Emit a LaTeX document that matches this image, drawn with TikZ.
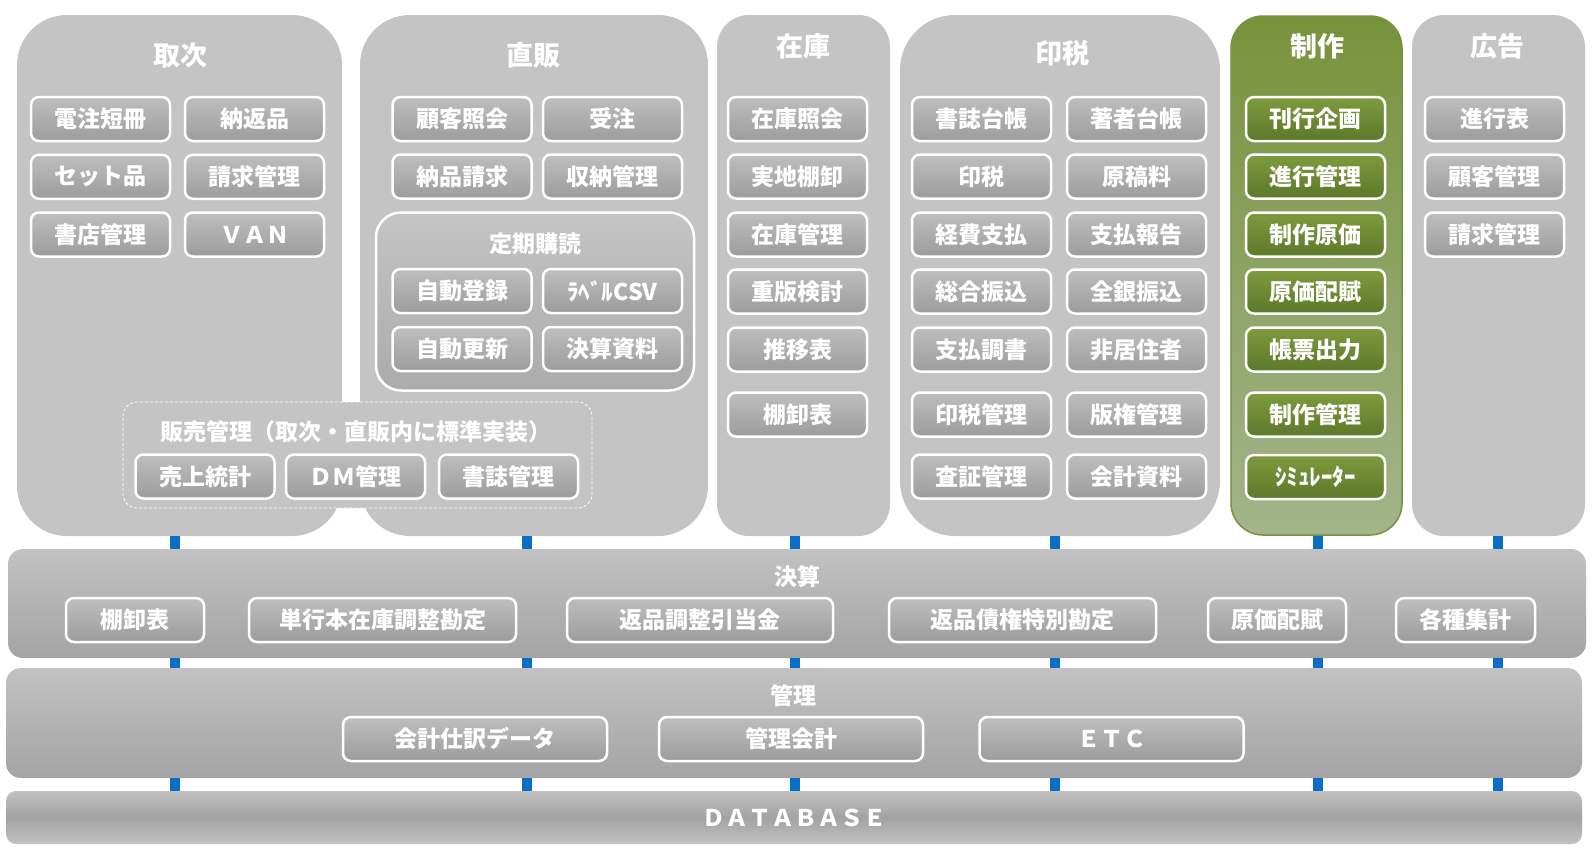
\documentclass[tikz,border=0pt]{standalone}
\usepackage{fontspec}
\setmainfont{Noto Sans CJK JP}
\definecolor{colgray}{HTML}{C4C4C4}
\definecolor{boxtop}{HTML}{BEBEBE}
\definecolor{boxbot}{HTML}{9C9C9C}
\definecolor{gcoltop}{HTML}{77923B}
\definecolor{gcolbot}{HTML}{A4B48C}
\definecolor{gboxtop}{HTML}{7E9B3E}
\definecolor{gboxbot}{HTML}{5C782A}
\definecolor{bartop}{HTML}{C2C2C2}
\definecolor{barbot}{HTML}{A4A4A4}
\definecolor{dbmid}{HTML}{A2A2A2}
\definecolor{linkblue}{HTML}{0A6EC6}
\tikzset{
	col/.style={fill=colgray, rounded corners=#1, minimum height=521pt, inner sep=0pt},
	greencol/.style={draw=gcoltop, line width=1.5pt, top color=gcoltop, bottom color=gcolbot, rounded corners=32pt, minimum height=519pt, minimum width=171pt, inner sep=0pt},
	coltitle/.style={text=white, font=\fontsize{27}{27}\selectfont\bfseries},
	subtitle/.style={text=white, font=\fontsize{23}{23}\selectfont\bfseries},
	gbox/.style={draw=white, line width=2.5pt, rounded corners=8pt, top color=boxtop, bottom color=boxbot, minimum width=139pt, minimum height=44pt, inner sep=0pt, text=white, font=\fontsize{23}{23}\selectfont\bfseries},
	greenbox/.style={gbox, top color=gboxtop, bottom color=gboxbot},
	bar/.style={rounded corners=15pt, top color=bartop, bottom color=barbot, inner sep=0pt},
	link/.style={draw=linkblue, line width=10pt}
}
\begin{document}
\begin{tikzpicture}[x=1pt,y=-1pt]
	\useasboundingbox (0,0) rectangle (1594,855);
	% columns
	\node[col=50pt, minimum width=325pt] (toritsugi) at (179.5,275.5) {};
	\node[col=50pt, minimum width=348pt] (chokuhan) at (534,275.5) {};
	\node[col=32pt, minimum width=173pt] (zaiko) at (803.5,275.5) {};
	\node[col=55pt, minimum width=320pt] (inzei) at (1060,275.5) {};
	\node[greencol] (seisaku) at (1316.5,275.5) {};
	\node[col=32pt, minimum width=173pt] (koukoku) at (1498.5,275.5) {};
	\node[coltitle] at (180,55) {取次};
	\node[coltitle] at (533,55) {直販};
	\node[coltitle] at (803,46) {在庫};
	\node[coltitle] at (1062,53) {印税};
	\node[coltitle] at (1317,46) {制作};
	\node[coltitle] at (1497,46) {広告};
	% bars
	\node[bar, minimum width=1578pt, minimum height=109pt] (kessan) at (797,603.5) {};
	\node[bar, minimum width=1576pt, minimum height=110pt] (kanri) at (794,723) {};
	\node[rounded corners=10pt, inner sep=0pt, top color=bartop, bottom color=bartop, middle color=dbmid, minimum width=1576pt, minimum height=53pt] (db) at (794,817.5) {};
	\foreach \cx/\cn in {175/toritsugi,527/chokuhan,795/zaiko,1055/inzei,1318/seisaku,1498/koukoku}{
		\draw[link] (\cx,0 |- \cn.south) -- (\cx,0 |- kessan.north);
		\draw[link] (\cx,0 |- kessan.south) -- (\cx,0 |- kanri.north);
		\draw[link] (\cx,0 |- kanri.south) -- (\cx,0 |- db.north);
	}
	% toritsugi
	\foreach \a/\b [count=\i] in {電注短冊/納返品,セット品/請求管理,書店管理/ＶＡＮ}{
		\node[gbox] (tr-l\i) at (100.5,{119+57.75*(\i-1)}) {\a};
		\node[gbox] (tr-r\i) at (254.5,{119+57.75*(\i-1)}) {\b};
	}
	% chokuhan
	\node[gbox] (ch-l1) at (462,119) {顧客照会};
	\node[gbox] (ch-r1) at (612.5,119) {受注};
	\node[gbox] (ch-l2) at (462,176.5) {納品請求};
	\node[gbox] (ch-r2) at (612.5,176.5) {収納管理};
	\node[draw=white, line width=2.5pt, rounded corners=25pt, top color=colgray, bottom color=boxtop!90!black, minimum width=318pt, minimum height=178pt] (teiki) at (535,301.5) {};
	\node[subtitle] at (535,244) {定期購読};
	\node[gbox] (tk-l1) at (462,291) {自動登録};
	\node[gbox] (tk-r1) at (612.5,291) {ﾗﾍﾞﾙCSV};
	\node[gbox] (tk-l2) at (462,349) {自動更新};
	\node[gbox] (tk-r2) at (612.5,349) {決算資料};
	% hanbai
	\node[draw=white, densely dashed, line width=0.8pt, fill=colgray, rounded corners=14pt, minimum width=469pt, minimum height=106pt] (hanbai) at (357.5,455) {};
	\node[subtitle] at (356,432) {販売管理（取次・直販内に標準実装）};
	\foreach \t/\x [count=\i] in {売上統計/205,ＤＭ管理/355.5,書誌管理/508.5}
		\node[gbox] (hb\i) at (\x,476.5) {\t};
	% zaiko
	\foreach \t/\y [count=\i] in {在庫照会/119,実地棚卸/176.5,在庫管理/234.5,重版検討/291.5,推移表/349.5,棚卸表/414.5}
		\node[gbox] (zk\i) at (797.5,\y) {\t};
	% inzei
	\foreach \a/\b/\y [count=\i] in {書誌台帳/著者台帳/119,印税/原稿料/176.5,経費支払/支払報告/234.5,総合振込/全銀振込/291.5,支払調書/非居住者/349.5,印税管理/版権管理/414.5,査証管理/会計資料/476.5}{
		\node[gbox] (iz-l\i) at (981.5,\y) {\a};
		\node[gbox] (iz-r\i) at (1136.5,\y) {\b};
	}
	% seisaku
	\foreach \t/\y [count=\i] in {刊行企画/119,進行管理/176.5,制作原価/234.5,原価配賦/291.5,帳票出力/349.5,制作管理/414.5,ｼﾐｭﾚｰﾀｰ/477}
		\node[greenbox] (ss\i) at (1315.5,\y) {\t};
	% koukoku
	\foreach \t/\y [count=\i] in {進行表/119,顧客管理/176.5,請求管理/234.5}
		\node[gbox] (kk\i) at (1494.5,\y) {\t};
	% kessan
	\node[subtitle] at (797,577) {決算};
	\foreach \t/\x/\w [count=\i] in {棚卸表/135/138,単行本在庫調整勘定/382.5/267,返品調整引当金/700/266,返品債権特別勘定/1022.5/267,原価配賦/1277/138,各種集計/1465.5/139}
		\node[gbox, minimum width=\w pt] (ks\i) at (\x,620) {\t};
	% kanri
	\node[subtitle] at (793,696) {管理};
	\foreach \t/\x [count=\i] in {会計仕訳データ/475,管理会計/791,ＥＴＣ/1111.5}
		\node[gbox, minimum width=264pt] (kr\i) at (\x,739) {\t};
	\node[text=white, font=\fontsize{23}{23}\selectfont\bfseries] at (db) {ＤＡＴＡＢＡＳＥ};
\end{tikzpicture}
\end{document}
